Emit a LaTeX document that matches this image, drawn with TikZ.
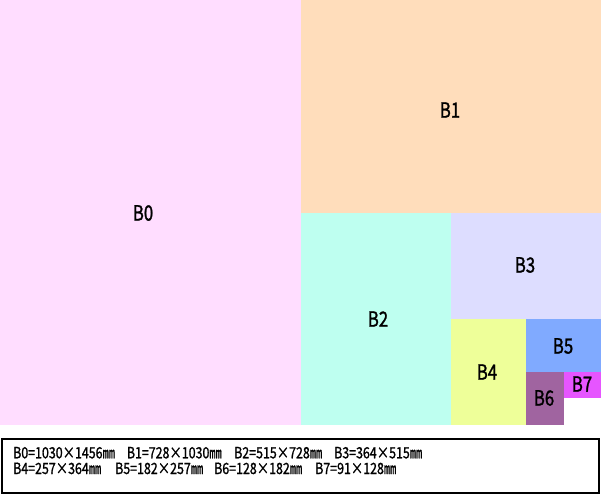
\documentclass[tikz,border=0pt]{standalone}
\usepackage{fontspec}
\setmainfont{Noto Sans CJK JP}[FakeStretch=0.8,FakeBold=1.2]
\definecolor{cB0}{RGB}{255,221,255}
\definecolor{cB1}{RGB}{255,221,187}
\definecolor{cB2}{RGB}{190,255,240}
\definecolor{cB3}{RGB}{221,221,255}
\definecolor{cB4}{RGB}{238,255,153}
\definecolor{cB5}{RGB}{128,170,255}
\definecolor{cB6}{RGB}{160,100,160}
\definecolor{cB7}{RGB}{230,85,255}
\tikzset{
  lab/.style={font=\fontsize{21}{22}\selectfont, inner sep=0pt},
  leg/.style={font=\fontsize{15.5}{16}\selectfont, inner sep=0pt, anchor=base west},
}
\begin{document}
\begin{tikzpicture}[x=1pt,y=-1pt]
\useasboundingbox[fill=white] (0,0) rectangle (601,495);
\fill[cB0] (0,0) rectangle (300.5,425);
\fill[cB1] (300.5,0) rectangle (601,213);
\fill[cB2] (300.5,213) rectangle (450.5,425);
\fill[cB3] (450.5,213) rectangle (601,318.5);
\fill[cB4] (450.5,318.5) rectangle (526,425);
\fill[cB5] (526,318.5) rectangle (601,371.5);
\fill[cB6] (526,371.5) rectangle (563.5,425);
\fill[cB7] (563.5,371.5) rectangle (601,398);
\node[lab] (b0) at (143,213) {B0};
\node[lab] (b1) at (450,110) {B1};
\node[lab] (b2) at (378,319) {B2};
\node[lab] (b3) at (525,265) {B3};
\node[lab] (b4) at (487,372) {B4};
\node[lab] (b5) at (563,346) {B5};
\node[lab] (b6) at (544,398) {B6};
\node[lab] (b7) at (582,384) {B7};
\draw[line width=2pt] (2,439) rectangle (599,493);
\node[leg] (l0) at (13,458.3) {B0=1030×1456㎜};
\node[leg] (l1) at (126.7,458.3) {B1=728×1030㎜};
\node[leg] (l2) at (234,458.3) {B2=515×728㎜};
\node[leg] (l3) at (334,458.3) {B3=364×515㎜};
\node[leg] (l4) at (13,474) {B4=257×364㎜};
\node[leg] (l5) at (115,474) {B5=182×257㎜};
\node[leg] (l6) at (214,474) {B6=128×182㎜};
\node[leg] (l7) at (315,474) {B7=91×128㎜};
\end{tikzpicture}
\end{document}
